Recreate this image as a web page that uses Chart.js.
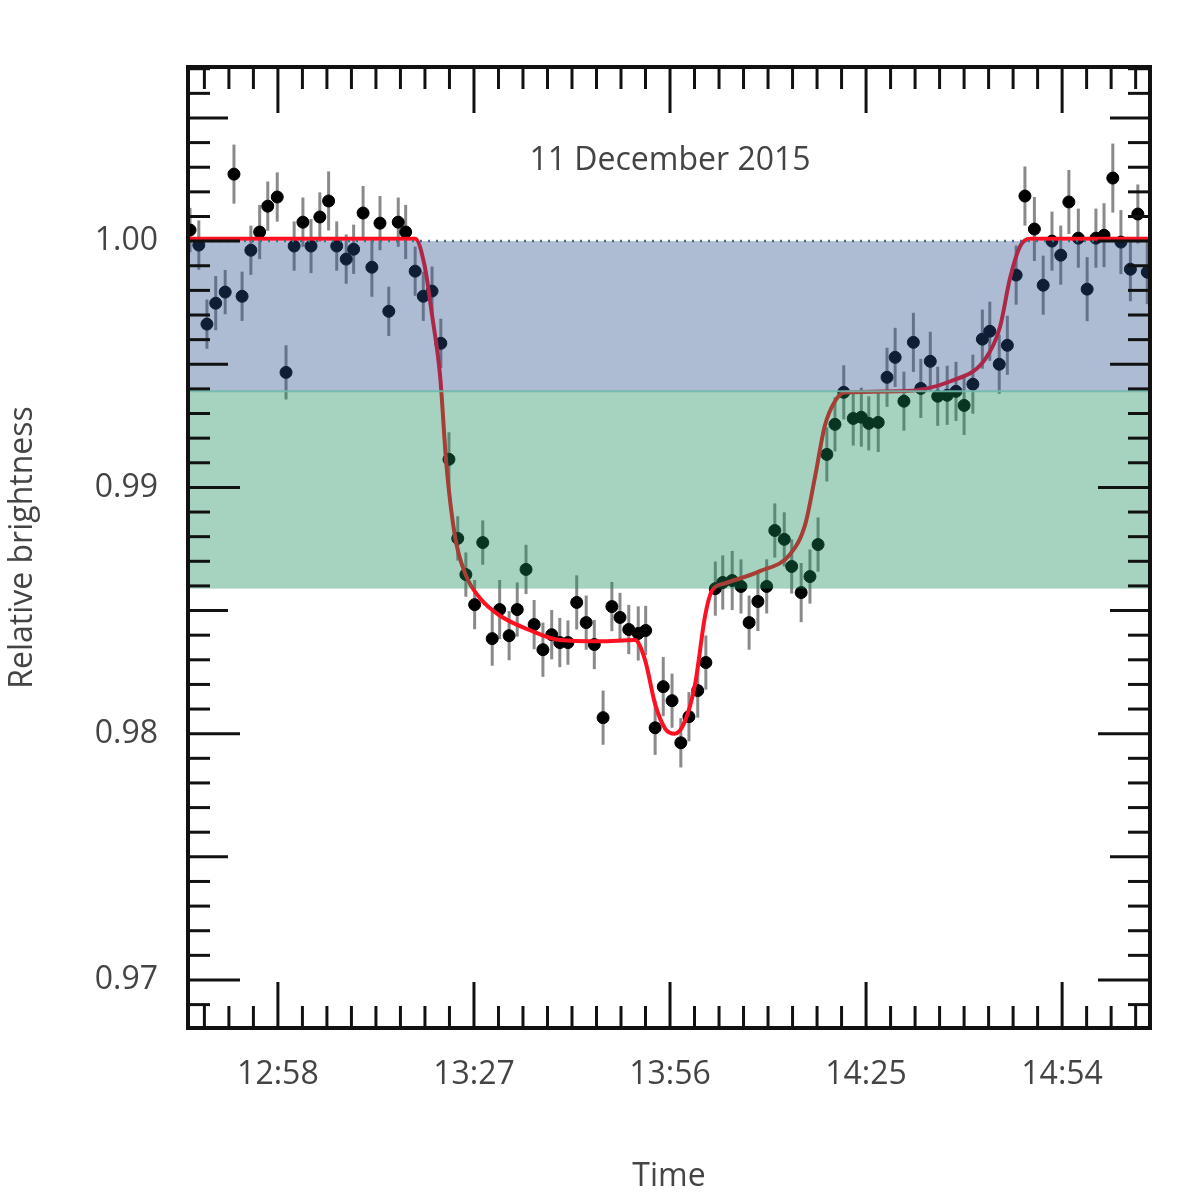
<!DOCTYPE html>
<html><head><meta charset="utf-8">
<script src="https://cdn.jsdelivr.net/npm/chart.js@4/dist/chart.umd.min.js"></script>
<style>html,body{margin:0;background:#fff}#c{display:block}</style>
</head><body>
<canvas id="c" width="1200" height="1200"></canvas>
<script>
// time in minutes after 12:58, brightness relative
const T0 = 778;
const obsTime = [-13.0,-11.7,-10.5,-9.2,-7.8,-6.5,-5.3,-4.0,-2.7,-1.5,-0.1,1.2,2.4,3.7,4.9,6.2,7.5,8.7,10.1,11.2,12.6,13.9,15.1,16.4,17.8,18.9,20.3,21.5,22.8,24.1,25.3,26.6,27.8,29.1,30.3,31.7,32.8,34.2,35.4,36.7,37.9,39.2,40.5,41.7,42.9,44.2,45.6,46.8,48.1,49.4,50.6,51.9,53.3,54.4,55.8,57.0,58.3,59.6,60.8,62.1,63.3,64.7,65.8,67.2,68.5,69.7,71.0,72.3,73.5,74.9,76.0,77.4,78.7,79.9,81.2,82.4,83.7,85.1,86.3,87.4,88.8,90.1,91.3,92.6,94.0,95.1,96.5,97.6,99.0,100.3,101.5,102.8,104.2,105.3,106.7,107.9,109.2,110.5,111.9,113.2,114.5,115.8,117.0,118.4,119.7,121.0,122.2,123.5,124.7,126.1,127.2,128.6];
const obsFlux = [1.00045,0.99984,0.99663,0.99748,0.99793,1.00272,0.99776,0.99963,1.00037,1.00142,1.00179,0.99467,0.99980,1.00077,0.99980,1.00098,1.00163,0.99980,0.99927,0.99967,1.00114,0.99894,1.00073,0.99715,1.00077,1.00037,0.99878,0.99776,0.99797,0.99585,0.99114,0.98793,0.98646,0.98524,0.98776,0.98386,0.98504,0.98398,0.98504,0.98667,0.98443,0.98341,0.98402,0.98370,0.98370,0.98533,0.98451,0.98362,0.98065,0.98516,0.98472,0.98423,0.98407,0.98419,0.98024,0.98191,0.98134,0.97963,0.98069,0.98175,0.98289,0.98589,0.98614,0.98622,0.98598,0.98451,0.98537,0.98598,0.98825,0.98789,0.98679,0.98573,0.98638,0.98768,0.99134,0.99256,0.99386,0.99280,0.99285,0.99260,0.99264,0.99447,0.99528,0.99350,0.99589,0.99402,0.99512,0.99370,0.99374,0.99390,0.99333,0.99419,0.99602,0.99634,0.99500,0.99577,0.99862,1.00183,1.00049,0.99821,1.00000,0.99943,1.00159,1.00012,0.99805,1.00012,1.00024,1.00256,0.99996,0.99886,1.00110,0.99874];
const obsErr = [0.0009,0.0010,0.0010,0.0011,0.0009,0.0012,0.0010,0.0010,0.0011,0.0010,0.0010,0.0011,0.0010,0.0010,0.0011,0.0010,0.0012,0.0010,0.0010,0.0010,0.0011,0.0012,0.0011,0.0010,0.0010,0.0011,0.0010,0.0010,0.0010,0.0010,0.0011,0.0009,0.0009,0.0010,0.0009,0.0011,0.0012,0.0010,0.0011,0.0010,0.0010,0.0011,0.0010,0.0010,0.0009,0.0011,0.0011,0.0010,0.0011,0.0010,0.0010,0.0010,0.0011,0.0010,0.0011,0.0012,0.0011,0.0010,0.0010,0.0011,0.0011,0.0011,0.0011,0.0012,0.0011,0.0011,0.0012,0.0011,0.0011,0.0011,0.0011,0.0012,0.0011,0.0011,0.0011,0.0011,0.0011,0.0011,0.0012,0.0011,0.0012,0.0012,0.0012,0.0012,0.0012,0.0012,0.0012,0.0012,0.0012,0.0012,0.0012,0.0012,0.0012,0.0012,0.0012,0.0012,0.0012,0.0012,0.0013,0.0012,0.0012,0.0012,0.0013,0.0012,0.0013,0.0012,0.0013,0.0014,0.0013,0.0013,0.0012,0.0013];
const modelTime = [-13.3,20.3,21.7,22.8,24.0,24.9,26.2,27.7,29.9,32.8,37.3,41.7,47.6,52.8,54.3,55.8,57.3,58.7,60.2,61.7,63.2,64.2,66.1,71.3,75.8,78.0,79.5,80.9,82.4,83.9,92.0,99.4,104.6,106.8,108.3,109.8,111.3,129.0];
const modelFlux = [1.0001,1.0001,0.9990,0.9970,0.9945,0.9910,0.9880,0.9865,0.9855,0.9848,0.9842,0.9838,0.98375,0.9838,0.9830,0.9812,0.9802,0.9800,0.9805,0.9820,0.9848,0.9858,0.9861,0.9866,0.9873,0.9885,0.9905,0.9925,0.9935,0.99385,0.9939,0.9943,0.9952,0.9965,0.9985,0.9998,1.0001,1.0001];
const bandBlue = [0.9939, 1.0000];
const bandGreen = [0.98589, 0.9939];
const xLabels = [0, 29, 58, 87, 116];
const yLabels = [0.97, 0.98, 0.99, 1.00];

const GRAY = '#444';
const FONT = '"Open Sans", sans-serif';

const fmtTime = v => { const m = Math.round(T0 + v); return Math.floor(m / 60) + ':' + String(m % 60).padStart(2, '0'); };

const decor = {
  id: 'decor',
  beforeDatasetsDraw(chart) {
    const { ctx } = chart, x = chart.scales.x, y = chart.scales.y;
    ctx.save();
    ctx.strokeStyle = '#8a8a8a'; ctx.lineWidth = 3;
    obsTime.forEach((t, i) => {
      const px = x.getPixelForValue(t);
      ctx.beginPath();
      ctx.moveTo(px, y.getPixelForValue(obsFlux[i] - obsErr[i]));
      ctx.lineTo(px, y.getPixelForValue(obsFlux[i] + obsErr[i]));
      ctx.stroke();
    });
    ctx.restore();
  },
  afterDatasetsDraw(chart) {
    const { ctx, chartArea: a } = chart, x = chart.scales.x, y = chart.scales.y;
    ctx.save();
    ctx.beginPath(); ctx.rect(a.left, a.top, a.right - a.left, a.bottom - a.top); ctx.clip();
    const band = (r, col) => {
      const t = y.getPixelForValue(r[1]), b = y.getPixelForValue(r[0]);
      ctx.fillStyle = col; ctx.fillRect(a.left, t, a.right - a.left, b - t);
    };
    band(bandBlue, 'rgba(40,80,140,0.38)');
    band(bandGreen, 'rgba(20,140,90,0.38)');
    const yb = y.getPixelForValue(bandBlue[0]);
    ctx.strokeStyle = 'rgba(110,185,170,0.9)'; ctx.lineWidth = 2;
    ctx.beginPath(); ctx.moveTo(a.left, yb); ctx.lineTo(a.right, yb); ctx.stroke();
    const y1 = y.getPixelForValue(1.0);
    ctx.strokeStyle = '#4a6a95'; ctx.lineWidth = 2.5; ctx.setLineDash([2, 6]);
    ctx.beginPath(); ctx.moveTo(a.left, y1); ctx.lineTo(a.right, y1); ctx.stroke();
    ctx.restore();

    // ticks on all four sides
    ctx.save();
    ctx.strokeStyle = '#111'; ctx.lineWidth = 3;
    const seg = (x1, y1_, x2, y2) => { ctx.beginPath(); ctx.moveTo(x1, y1_); ctx.lineTo(x2, y2); ctx.stroke(); };
    const step = 29 / 8;
    for (let k = Math.ceil(x.min / step); k * step <= x.max; k++) {
      const px = x.getPixelForValue(k * step), L = k % 8 === 0 ? 46 : 22;
      seg(px, a.bottom, px, a.bottom - L); seg(px, a.top, px, a.top + L);
    }
    for (let k = Math.ceil(y.min * 1000 - 1e-6); k <= y.max * 1000; k++) {
      const py = y.getPixelForValue(k / 1000), L = k % 10 === 0 ? 52 : (k % 5 === 0 ? 40 : 22);
      seg(a.left, py, a.left + L, py); seg(a.right, py, a.right - L, py);
    }
    ctx.lineWidth = 4;
    ctx.strokeRect(a.left, a.top, a.right - a.left, a.bottom - a.top);
    ctx.fillStyle = GRAY; ctx.font = '32px ' + FONT; ctx.textAlign = 'center';
    ctx.fillText('11 December 2015', x.getPixelForValue(58), 170);
    ctx.restore();
  }
};

new Chart(document.getElementById('c'), {
  type: 'scatter',
  data: {
    datasets: [
      { label: 'model', type: 'line', data: modelTime.map((t, i) => ({ x: t, y: modelFlux[i] })),
        borderColor: '#ff1020', borderWidth: 4, pointRadius: 0, cubicInterpolationMode: 'monotone', order: 1 },
      { label: 'obs', data: obsTime.map((t, i) => ({ x: t, y: obsFlux[i] })),
        backgroundColor: '#000', borderColor: '#000', pointRadius: 6, order: 2 }
    ]
  },
  options: {
    responsive: false, animation: false,
    layout: { padding: { top: 67, right: 50 } },
    plugins: { legend: { display: false }, tooltip: { enabled: false } },
    scales: {
      x: {
        type: 'linear', min: -13.3, max: 129,
        afterBuildTicks: s => { s.ticks = xLabels.map(v => ({ value: v })); },
        afterFit: s => { s.height = 172; },
        grid: { display: false }, border: { display: false },
        ticks: { callback: v => fmtTime(v), color: GRAY, font: { size: 32, family: FONT }, padding: 20, maxRotation: 0 },
        title: { display: true, text: 'Time', color: GRAY, font: { size: 32, family: FONT }, padding: { top: 10 } }
      },
      y: {
        min: 0.96805, max: 1.00707,
        afterBuildTicks: s => { s.ticks = yLabels.map(v => ({ value: v })); },
        afterFit: s => { s.width = 188; },
        grid: { display: false }, border: { display: false },
        ticks: { callback: v => v.toFixed(2), color: GRAY, font: { size: 32, family: FONT }, padding: 22 },
        title: { display: true, text: 'Relative brightness', color: GRAY, font: { size: 32, family: FONT }, padding: { bottom: 20 } }
      }
    }
  },
  plugins: [decor]
});
</script>
</body></html>
